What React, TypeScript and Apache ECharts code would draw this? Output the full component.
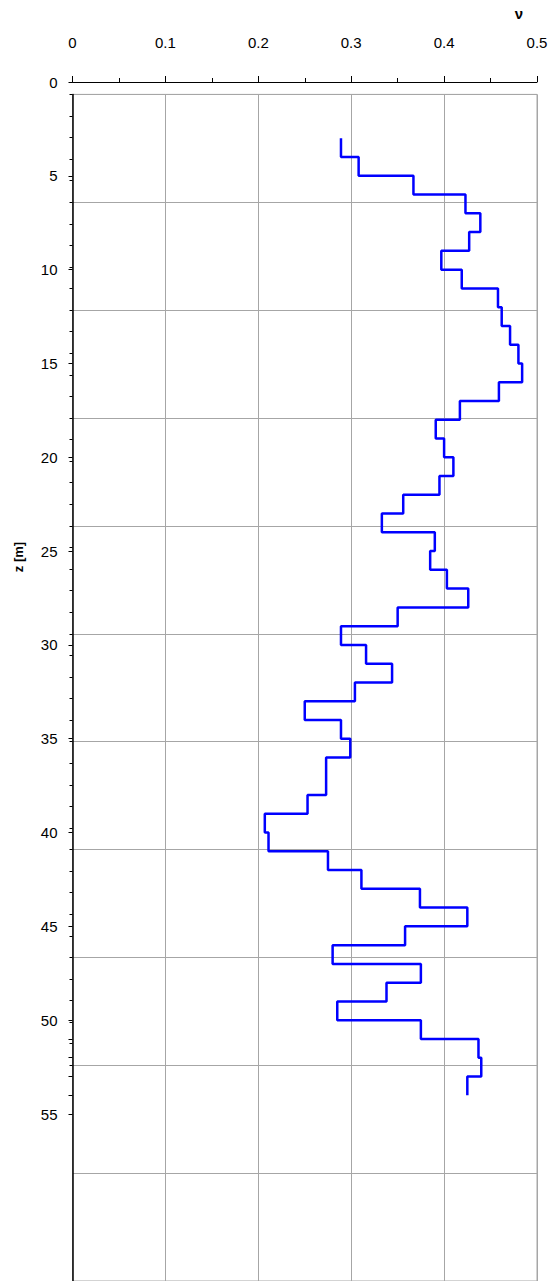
import React, { useEffect, useRef } from "react";
import * as echarts from "echarts";

// Layer boundaries (depth z in m) and Poisson's ratio ν of each layer
const depthBounds = [
  3, 4, 5, 6, 7, 8, 9, 10, 11, 12, 13, 14, 15, 16, 17, 18, 19, 20, 21, 22, 23, 24, 25, 26, 27,
  28, 29, 30, 31, 32, 33, 34, 35, 36, 37, 38, 39, 40, 41, 42, 43, 44, 45, 46, 47, 48, 49, 50,
  51, 52, 53, 54,
];
const nuValues = [
  0.289, 0.308, 0.367, 0.423, 0.439, 0.427, 0.397, 0.419, 0.458, 0.462, 0.471, 0.48, 0.484,
  0.459, 0.417, 0.391, 0.4, 0.41, 0.395, 0.356, 0.333, 0.39, 0.385, 0.403, 0.426, 0.35, 0.289,
  0.316, 0.344, 0.304, 0.25, 0.289, 0.299, 0.273, 0.273, 0.253, 0.207, 0.211, 0.275, 0.311,
  0.374, 0.425, 0.358, 0.28, 0.375, 0.338, 0.285, 0.375, 0.437, 0.44, 0.425,
];
const xTicks = [0, 0.1, 0.2, 0.3, 0.4, 0.5];
const zLabels = [0, 5, 10, 15, 20, 25, 30, 35, 40, 45, 50, 55];
const zExtraTicks = [51, 52, 53, 54];

export default function App() {
  const ref = useRef<HTMLDivElement>(null);
  useEffect(() => {
    document.body.style.margin = "0";
    const chart = echarts.init(ref.current!, null, { renderer: "svg" });
    const pts: number[][] = [];
    nuValues.forEach((v, i) => {
      pts.push([v, depthBounds[i]]);
      pts.push([v, depthBounds[i + 1]]);
    });
    // frame-axis ticks: every 0.2 of a grid division, down to division 9
    const frameTicks: number[] = [];
    for (let k = 0; k <= 45; k++) frameTicks.push(Math.round(k * 20) / 100);
    const font = "Liberation Sans, Arial, sans-serif";
    chart.setOption({
      animation: false,
      grid: [
        { left: 72.5, right: 20, top: 82, bottom: 0 },
        {
          left: 72.5,
          right: 20,
          top: 94.4,
          bottom: 0,
          show: true,
          borderColor: "#a6a6a6",
          borderWidth: 1,
        },
      ],
      xAxis: [
        {
          gridIndex: 0,
          type: "value",
          position: "top",
          min: 0,
          max: 0.5,
          interval: 0.1,
          axisLine: { show: true, lineStyle: { color: "#000", width: 1 } },
          axisTick: { show: true, length: 6, lineStyle: { color: "#000" } },
          minorTick: { show: true, splitNumber: 2, length: 4, lineStyle: { color: "#000" } },
          splitLine: { show: false },
          axisLabel: {
            margin: 32,
            color: "#000",
            fontSize: 15,
            fontFamily: font,
            customValues: xTicks,
            formatter: (v: number) => (v === 0 ? "0" : v.toFixed(1)),
          },
        },
        {
          gridIndex: 1,
          type: "value",
          min: 0,
          max: 0.5,
          interval: 0.1,
          axisLine: { show: false },
          axisTick: { show: false },
          axisLabel: { show: false },
          splitLine: { show: true, lineStyle: { color: "#a6a6a6", width: 1 } },
        },
      ],
      yAxis: [
        {
          gridIndex: 0,
          type: "value",
          inverse: true,
          min: 0,
          max: 63.9,
          interval: 5,
          axisLine: { show: false },
          axisTick: {
            show: true,
            length: 4,
            customValues: [...zLabels, ...zExtraTicks],
            lineStyle: { color: "#000" },
          },
          splitLine: { show: false },
          axisLabel: {
            margin: 15,
            color: "#000",
            fontSize: 15,
            fontFamily: font,
            customValues: zLabels,
          },
        },
        {
          gridIndex: 1,
          type: "value",
          inverse: true,
          min: 0,
          max: 11,
          interval: 1,
          axisLine: { show: true, lineStyle: { color: "#000", width: 1.5 } },
          axisTick: { show: false },
          axisLabel: { show: false },
          splitLine: { show: true, lineStyle: { color: "#a6a6a6", width: 1 } },
        },
        {
          gridIndex: 1,
          type: "value",
          position: "left",
          inverse: true,
          min: 0,
          max: 11,
          interval: 1,
          axisLine: { show: false },
          axisTick: {
            show: true,
            length: 3,
            customValues: frameTicks,
            lineStyle: { color: "#000" },
          },
          axisLabel: { show: false },
          splitLine: { show: false },
        },
      ],
      series: [
        {
          type: "line",
          xAxisIndex: 0,
          yAxisIndex: 0,
          data: pts,
          showSymbol: false,
          symbol: "none",
          lineStyle: { color: "#0000ff", width: 2.5 },
          z: 10,
        },
      ],
      graphic: [
        {
          type: "text",
          x: 519,
          y: 13,
          style: {
            text: "ν",
            font: `bold 15px ${font}`,
            fill: "#000",
            textAlign: "center",
            textVerticalAlign: "middle",
          },
        },
        {
          type: "text",
          x: 18,
          y: 557,
          rotation: Math.PI / 2,
          style: {
            text: "z [m]",
            font: `bold 13px ${font}`,
            fill: "#000",
            textAlign: "center",
            textVerticalAlign: "middle",
          },
        },
      ],
    });
    return () => chart.dispose();
  }, []);
  return <div ref={ref} style={{ width: 557, height: 1281 }} />;
}
